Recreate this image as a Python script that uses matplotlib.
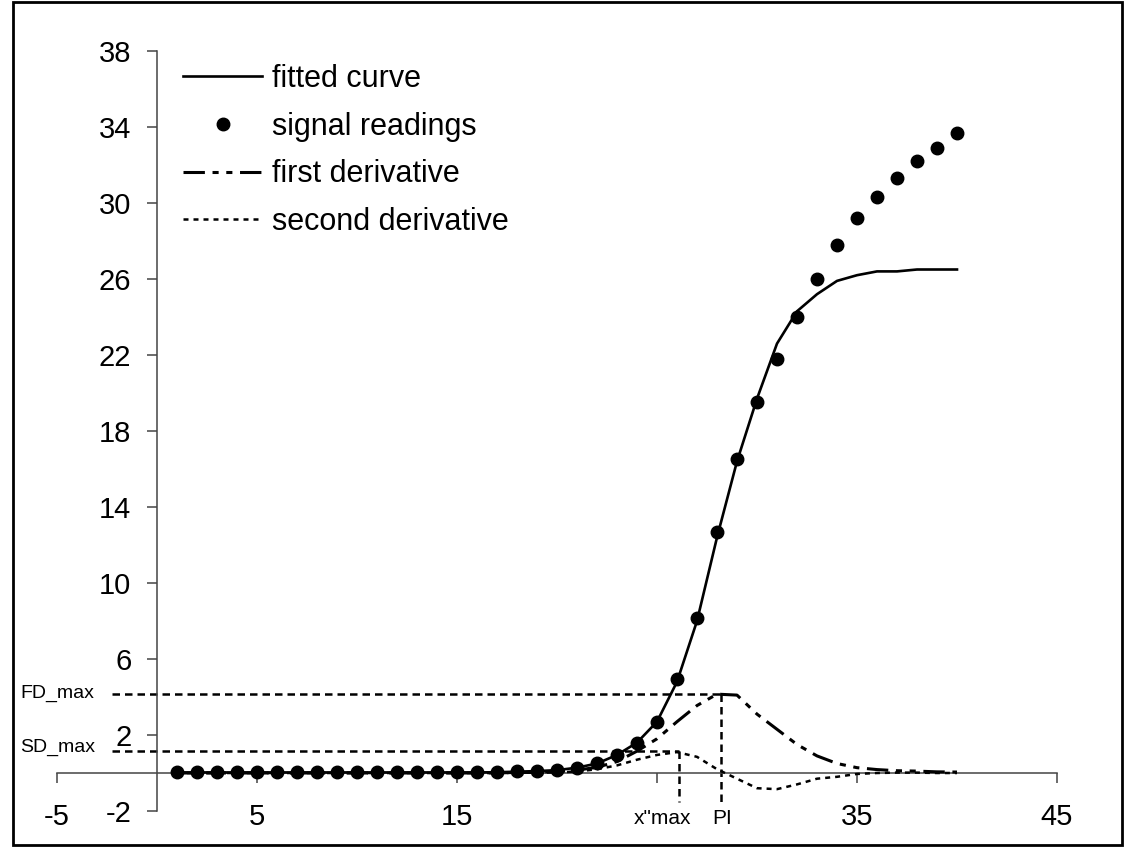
import matplotlib
matplotlib.use("Agg")
import matplotlib.pyplot as plt
from matplotlib.patches import Rectangle

plt.rcParams['font.family'] = ['Liberation Sans', 'DejaVu Sans']

# ---- data ----
cycles = list(range(1, 41))
signal_readings = [0.05, 0.05, 0.05, 0.05, 0.05, 0.05, 0.05, 0.05, 0.05, 0.05,
                   0.05, 0.05, 0.05, 0.05, 0.05, 0.05, 0.05, 0.13, 0.13, 0.16,
                   0.26, 0.53, 0.95, 1.58, 2.68, 4.95, 8.15, 12.7, 16.5, 19.5,
                   21.8, 24.0, 26.0, 27.8, 29.2, 30.3, 31.3, 32.2, 32.9, 33.7]
fitted_curve = [0.03, 0.03, 0.03, 0.03, 0.03, 0.03, 0.03, 0.03, 0.03, 0.03,
                0.03, 0.03, 0.03, 0.03, 0.03, 0.03, 0.04, 0.07, 0.1, 0.15,
                0.28, 0.5, 0.95, 1.6, 2.7, 4.8, 8.0, 12.4, 16.4, 19.7,
                22.6, 24.3, 25.2, 25.9, 26.2, 26.4, 26.4, 26.5, 26.5, 26.5]
first_derivative = [0.0, 0.0, 0.0, 0.0, 0.0, 0.0, 0.0, 0.0, 0.0, 0.0,
                    0.0, 0.0, 0.0, 0.0, 0.0, 0.0, 0.01, 0.02, 0.04, 0.08,
                    0.15, 0.3, 0.6, 1.15, 1.8, 2.7, 3.55, 4.15, 4.1, 3.1,
                    2.3, 1.5, 0.9, 0.5, 0.28, 0.18, 0.12, 0.1, 0.06, 0.05]
second_derivative = [0.0, 0.0, 0.0, 0.0, 0.0, 0.0, 0.0, 0.0, 0.0, 0.0,
                     0.0, 0.0, 0.0, 0.0, 0.0, 0.0, 0.0, 0.01, 0.02, 0.03,
                     0.08, 0.2, 0.4, 0.7, 0.95, 1.1, 0.85, 0.2, -0.3, -0.8,
                     -0.85, -0.6, -0.3, -0.2, -0.05, 0.0, 0.02, 0.02, 0.0, 0.0]

FD_max = 4.15
SD_max = 1.15
PI_x = 28.2
x2max_x = 26.1

x_ticks = [-5, 5, 15, 25, 35, 45]
x_tick_labels = ['-5', '5', '15', '', '35', '45']
y_ticks = [-2, 2, 6, 10, 14, 18, 22, 26, 30, 34, 38]
y_tick_labels = [str(v) for v in y_ticks]

legend_labels = ['fitted curve', 'signal readings', 'first derivative', 'second derivative']

# ---- figure ----
W, H = 1135, 857
fig = plt.figure(figsize=(W / 100, H / 100), dpi=100)
ax = fig.add_axes([57 / W, (H - 811) / H, 1000 / W, 760 / H])
ax.set_xlim(-5, 45)
ax.set_ylim(-2, 38)

# outer chart border
fig.patches.append(Rectangle((13 / W, 12 / H), (1122 - 13) / W, (855 - 12) / H,
                             transform=fig.transFigure, fill=False,
                             edgecolor='black', linewidth=2))

h1, = ax.plot(cycles, fitted_curve, color='black', lw=1.9, zorder=3)
h2, = ax.plot(cycles, signal_readings, linestyle='none', marker='o',
              color='black', ms=9, zorder=4)
h3, = ax.plot(cycles, first_derivative, color='black', lw=2.2,
              linestyle=(0, (7, 2.5, 2, 2.5, 2, 2.5)), zorder=3)
h4, = ax.plot(cycles, second_derivative, color='black', lw=1.8,
              linestyle=(0, (2, 2)), zorder=3)

# reference dashed lines
ref_style = dict(color='black', lw=1.8, linestyle=(0, (3, 2)), zorder=2, clip_on=False)
ax.plot([-2.25, PI_x], [FD_max, FD_max], **ref_style)
ax.plot([-2.25, x2max_x], [SD_max, SD_max], **ref_style)
ax.plot([PI_x, PI_x], [FD_max, -1.5], **ref_style)
ax.plot([x2max_x, x2max_x], [SD_max, -1.5], **ref_style)

ax.text(-6.85, 4.2, 'FD_max', fontsize=14, ha='left', va='center', clip_on=False)
ax.text(-6.85, 1.35, 'SD_max', fontsize=14, ha='left', va='center', clip_on=False)
ax.text(25.3, -2.4, 'x"max', fontsize=15, ha='center', va='center', clip_on=False)
ax.text(28.25, -2.4, 'PI', fontsize=15, ha='center', va='center', clip_on=False)

# axes styling
for s in ['top', 'right']:
    ax.spines[s].set_visible(False)
ax.spines['left'].set_position(('data', 0))
ax.spines['bottom'].set_position(('data', 0))
for s in ['left', 'bottom']:
    ax.spines[s].set_color('#444444')
    ax.spines[s].set_linewidth(1.1)

ax.set_xticks(x_ticks)
ax.set_xticklabels(x_tick_labels)
ax.set_yticks(y_ticks)
ax.set_yticklabels(y_tick_labels)
ax.tick_params(axis='x', direction='out', length=7.5, width=1.1, color='#444444',
               labelsize=21, pad=14)
ax.tick_params(axis='y', direction='out', length=7.5, width=1.1, color='#444444',
               labelsize=21, pad=11)
ax.patch.set_visible(False)

leg = ax.legend([h1, h2, h3, h4], legend_labels, loc='upper left',
                bbox_to_anchor=(183 / W, 1 - 64 / H), bbox_transform=fig.transFigure,
                frameon=False, fontsize=22, handlelength=2.6, handletextpad=0.3,
                labelspacing=0.58, borderpad=0, borderaxespad=0, numpoints=1)

fig.savefig('out.png', dpi=100)
